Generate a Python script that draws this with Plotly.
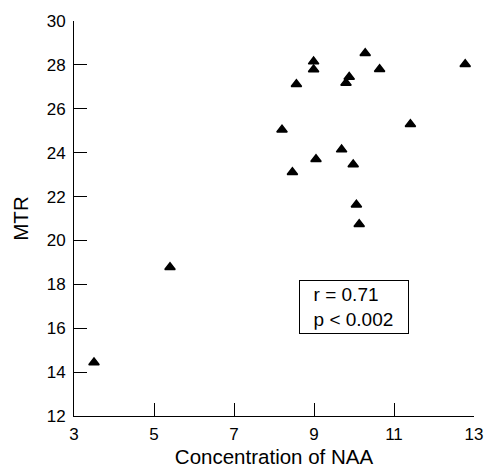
import plotly.graph_objects as go

# Data
naa = [10.28, 8.99, 8.99, 10.64, 12.78, 8.56, 9.88, 9.80, 8.20, 11.41,
       9.69, 9.05, 9.98, 8.46, 10.06, 10.13, 5.40, 3.50]
mtr = [28.53, 28.15, 27.79, 27.80, 28.03, 27.12, 27.45, 27.18, 25.05, 25.30,
       24.14, 23.70, 23.46, 23.11, 21.63, 20.74, 18.78, 14.44]

x_ticks = [3, 5, 7, 9, 11, 13]
y_ticks = [12, 14, 16, 18, 20, 22, 24, 26, 28, 30]
stats_text = "&nbsp;&nbsp;r = 0.71<br>&nbsp;&nbsp;p &lt; 0.002"

FONT = "Liberation Sans, Arial, Helvetica, sans-serif"

fig = go.Figure()
fig.add_trace(go.Scatter(
    x=naa, y=mtr, mode="markers",
    marker=dict(symbol="triangle-up", size=9, color="black",
                line=dict(color="black", width=1.5)),
    cliponaxis=False, showlegend=False,
))

fig.add_annotation(
    x=10.0, y=16.95, xref="x", yref="y",
    text=stats_text, showarrow=False, align="left",
    font=dict(family=FONT, size=19, color="black"),
    bordercolor="black", borderwidth=1, borderpad=3, width=102,
    bgcolor="white",
)

axis_common = dict(
    showgrid=False, zeroline=False, showline=True, linecolor="black",
    linewidth=1, ticks="inside", ticklen=13, tickwidth=1, tickcolor="black",
    tickfont=dict(family=FONT, size=17, color="black"), automargin=False,
)

fig.update_xaxes(range=[3, 13], tickvals=x_ticks, ticklabelstandoff=3,
                 title=dict(text="Concentration of NAA", standoff=11,
                            font=dict(family=FONT, size=20.5, color="black")),
                 **axis_common)
fig.update_yaxes(range=[12, 30], tickvals=y_ticks, ticklabelstandoff=4,
                 title=dict(text="MTR", standoff=12,
                            font=dict(family=FONT, size=20.5, color="black")),
                 **axis_common)

fig.update_layout(
    width=488, height=468,
    margin=dict(l=74, r=14, t=21, b=52),
    plot_bgcolor="white", paper_bgcolor="white",
    font=dict(family=FONT, color="black"),
)

fig.write_html("out.html")
